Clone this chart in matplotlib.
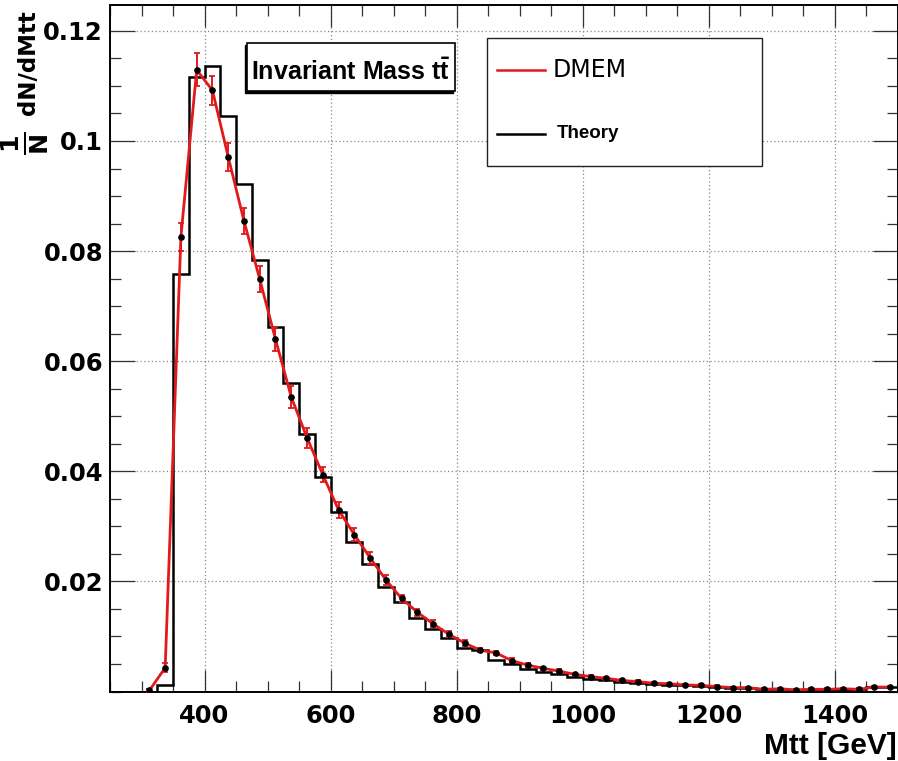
"""
Invariant mass of the ttbar system: DMEM reconstruction vs. theory histogram.
"""

import numpy as np
import matplotlib
matplotlib.use('Agg')
import matplotlib.pyplot as plt
from matplotlib.lines import Line2D
from matplotlib.patches import Rectangle
from matplotlib.ticker import FixedLocator, MultipleLocator

# theory histogram, 25 GeV bins from 250 to 1500 GeV
theory_edges = np.arange(250, 1525, 25)
theory_vals = [
    0.0, 0.0, 0.0, 0.0011, 0.0759, 0.1117, 0.1137, 0.1045, 0.0921, 0.0784,
    0.0662, 0.0561, 0.0467, 0.0390, 0.0326, 0.0272, 0.0231, 0.0189, 0.0162, 0.0134,
    0.0114, 0.0098, 0.0079, 0.0075, 0.0058, 0.0050, 0.0041, 0.0036, 0.0031, 0.0026,
    0.0023, 0.0020, 0.0017, 0.0016, 0.0013, 0.0012, 0.0011, 0.0010, 0.0008, 0.0007,
    0.0006, 0.0005, 0.0004, 0.0003, 0.0003, 0.0003, 0.0003, 0.0004, 0.0009, 0.0009,
]

# DMEM points at the bin centres, 312.5 .. 1487.5 GeV
dmem_x = np.arange(312.5, 1500, 25)
dmem_y = [
    0.0002, 0.0043, 0.0826, 0.1129, 0.1092, 0.0971, 0.0855, 0.0749, 0.0640, 0.0535,
    0.0461, 0.0394, 0.0330, 0.0285, 0.0243, 0.0203, 0.0169, 0.0144, 0.0123, 0.0104,
    0.0088, 0.0075, 0.0070, 0.0056, 0.0048, 0.0042, 0.0037, 0.0031, 0.0027, 0.0024,
    0.0020, 0.0018, 0.0015, 0.0014, 0.0012, 0.0011, 0.0009, 0.0007, 0.0007, 0.0004,
    0.0005, 0.0003, 0.0004, 0.0004, 0.0005, 0.0004, 0.0008, 0.0008,
]
dmem_err = [
    0.0002, 0.0008, 0.0025, 0.0030, 0.0026, 0.0026, 0.0024, 0.0023, 0.0022, 0.0020,
    0.0018, 0.0014, 0.0014, 0.0012, 0.0011, 0.0009, 0.0007, 0.0006, 0.0006, 0.0005,
    0.0005, 0.0004, 0.0004, 0.0004, 0.0004, 0.0003, 0.0003, 0.0003, 0.0003, 0.0003,
    0.0003, 0.0003, 0.0002, 0.0002, 0.0002, 0.0002, 0.0002, 0.0002, 0.0002, 0.0002,
    0.0002, 0.0002, 0.0002, 0.0002, 0.0002, 0.0002, 0.0002, 0.0002,
]

x_ticks = [400, 600, 800, 1000, 1200, 1400]
x_tick_labels = ['400', '600', '800', '1000', '1200', '1400']
y_ticks = [0.02, 0.04, 0.06, 0.08, 0.10, 0.12]
y_tick_labels = ['0.02', '0.04', '0.06', '0.08', '0.1', '0.12']

RED = '#e31a1c'
W, H = 898, 761

plt.rcParams['mathtext.fontset'] = 'custom'
plt.rcParams['mathtext.bf'] = 'Liberation Sans:bold'
plt.rcParams['mathtext.rm'] = 'DejaVu Sans:bold'


def px(x, y):
    """pixel position (from top-left) -> figure fraction"""
    return x / W, 1 - y / H


fig = plt.figure(figsize=(W / 100, H / 100), dpi=100)
ax = fig.add_axes([110 / W, 1 - 691.5 / H, 788 / W, 686.5 / H])

ax.stairs(theory_vals, theory_edges, color='black', linewidth=1.8,
          baseline=0, zorder=3)
ax.errorbar(dmem_x, dmem_y, yerr=dmem_err, color=RED, ecolor=RED,
            linewidth=2.0, elinewidth=1.4, capsize=2, capthick=1.3,
            marker='o', markersize=3.8, markerfacecolor='black',
            markeredgecolor='black', zorder=4)

ax.set_xlim(250, 1500)
ax.set_ylim(0, 0.1247)

ax.xaxis.set_major_locator(FixedLocator(x_ticks))
ax.set_xticklabels(x_tick_labels)
ax.yaxis.set_major_locator(FixedLocator(y_ticks))
ax.set_yticklabels(y_tick_labels)
ax.xaxis.set_minor_locator(MultipleLocator(50))
ax.yaxis.set_minor_locator(MultipleLocator(0.005))

ax.tick_params(which='both', direction='in', top=True, right=True,
               color='#333333', width=0.9)
ax.tick_params(axis='x', which='major', length=16, pad=9)
ax.tick_params(axis='y', which='major', length=18, pad=5)
ax.tick_params(which='minor', length=8)
for lab in ax.get_xticklabels() + ax.get_yticklabels():
    lab.set_family('DejaVu Sans')
    lab.set_fontweight('bold')
    lab.set_fontsize(17.5)

ax.grid(True, which='major', color='#888888', linestyle=(0, (1, 2)),
        linewidth=0.9)
for spine in ax.spines.values():
    spine.set_linewidth(1.4)
    spine.set_edgecolor('black')

# axis titles
fig.text(*px(897, 754), 'Mtt [GeV]', ha='right', va='baseline',
         family='Liberation Sans', fontweight='bold', fontsize=21.5)
fig.text(*px(29, 10), 'dN/dMtt', rotation=90, ha='center', va='top',
         family='DejaVu Sans', fontweight='bold', fontsize=16.5)
fig.text(*px(25, 143), r'$\frac{\mathrm{1}}{\mathrm{N}}$', rotation=90,
         ha='center', va='center', fontsize=26)

# title box with a small shadow
x0, y0, x1, y1 = 247, 43, 455, 91
fig.add_artist(Rectangle(px(x0 - 2, y1 + 2), (x1 - x0) / W, (y1 - y0) / H,
                         facecolor='black', edgecolor='black', linewidth=1,
                         zorder=5))
fig.add_artist(Rectangle(px(x0, y1), (x1 - x0) / W, (y1 - y0) / H,
                         facecolor='white', edgecolor='black', linewidth=1.2,
                         zorder=6))
fig.text(*px(351, 80), r'Invariant Mass $\mathbf{t\bar{t}}$', ha='center',
         va='baseline', family='Liberation Sans', fontweight='bold',
         fontsize=18, zorder=7)

# legend
lx0, ly0, lx1, ly1 = 487, 38, 762, 166
fig.add_artist(Rectangle(px(lx0, ly1), (lx1 - lx0) / W, (ly1 - ly0) / H,
                         facecolor='white', edgecolor='#222222',
                         linewidth=1.0, zorder=5))
fig.add_artist(Line2D([497 / W, 545 / W], [1 - 70 / H, 1 - 70 / H],
                      color=RED, linewidth=1.8, zorder=6))
fig.add_artist(Line2D([497 / W, 545 / W], [1 - 134 / H, 1 - 134 / H],
                      color='black', linewidth=1.8, zorder=6))
fig.text(*px(553, 70), 'DMEM', ha='left', va='center', family='DejaVu Sans',
         fontsize=17, zorder=7)
fig.text(*px(557, 133), 'Theory', ha='left', va='center',
         family='Liberation Sans', fontweight='bold', fontsize=13.5, zorder=7)

fig.savefig('out.png', dpi=100, facecolor='white')
